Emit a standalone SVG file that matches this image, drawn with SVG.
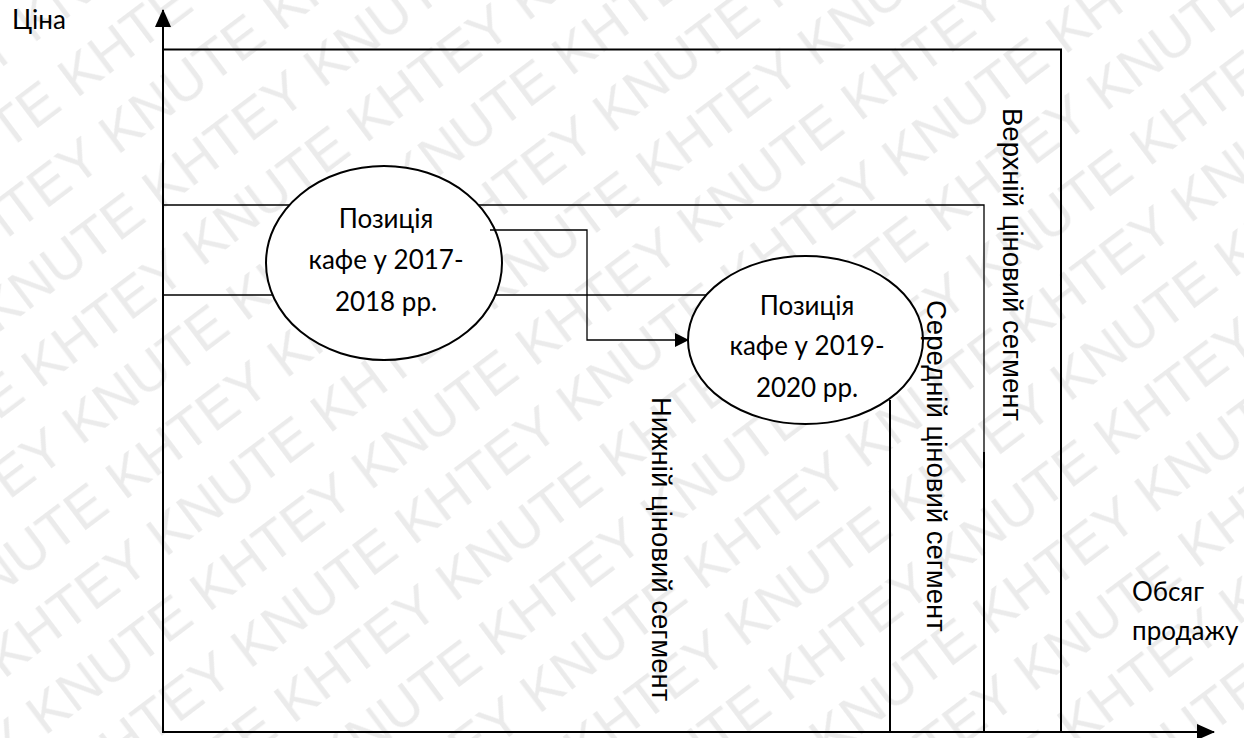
<svg xmlns="http://www.w3.org/2000/svg" width="1244" height="738" viewBox="0 0 1244 738">
<style>
.wm{font-family:"Liberation Sans",Arial,sans-serif;font-size:56px;fill:#ebebeb}
.ln{stroke:#000;stroke-width:2;fill:none}
.thin{stroke:#000;stroke-width:1.3;fill:none}
.ell{stroke:#000;stroke-width:2;fill:#fff}
.lt{font-family:Lato,"Open Sans",sans-serif;font-size:26px;fill:#000}
.vt{font-family:"Liberation Sans",Arial,sans-serif;font-size:27.5px;fill:#000}
</style>
<defs>
<pattern id="wmp" patternUnits="userSpaceOnUse" width="407.6" height="140" patternTransform="rotate(-37)">
<text class="wm" x="0" y="55">KNUTE KHTEY </text>
<text class="wm" x="-203.8" y="125">KNUTE KHTEY </text>
<text class="wm" x="203.8" y="125">KNUTE KHTEY </text>
</pattern>
<marker id="ah" markerWidth="14" markerHeight="14" refX="13" refY="7" orient="auto" markerUnits="userSpaceOnUse">
<path d="M0,0 L14,7 L0,14 Z" fill="#000"/>
</marker>
<marker id="ax" markerWidth="18" markerHeight="18" refX="17" refY="9" orient="auto" markerUnits="userSpaceOnUse">
<path d="M0,1 L18,9 L0,17 Z" fill="#000"/>
</marker>
</defs>
<rect width="1244" height="738" fill="#fff"/>
<rect id="watermark" width="1244" height="738" fill="url(#wmp)"/>
<g id="segments">
<path class="ln" d="M163,49.5 H1061 V732"/>
<path class="thin" d="M163,205 H984 V452"/>
<path class="ln" d="M984,452 V732"/>
<path class="thin" d="M163,295 H708"/>
<path class="ln" d="M890,400 V732"/>
</g>
<g id="axes">
<path class="ln" d="M163,733 V10" marker-end="url(#ax)"/>
<path class="ln" d="M163,732 H1214" marker-end="url(#ax)"/>
</g>
<g id="node-2017">
<ellipse class="ell" cx="384" cy="263" rx="118" ry="97"/>
<text class="lt" text-anchor="middle" x="386" y="228">Позиція</text>
<text class="lt" text-anchor="middle" x="386" y="269">кафе у 2017-</text>
<text class="lt" text-anchor="middle" x="386" y="311">2018 рр.</text>
</g>
<g id="node-2019">
<ellipse class="ell" cx="805.5" cy="340" rx="117.5" ry="84"/>
<text class="lt" text-anchor="middle" x="807" y="315">Позиція</text>
<text class="lt" text-anchor="middle" x="807" y="355">кафе у 2019-</text>
<text class="lt" text-anchor="middle" x="807" y="397">2020 рр.</text>
</g>
<g id="connectors">
<path class="thin" d="M490,230 H587 V340 H688" marker-end="url(#ah)"/>
</g>
<g id="labels">
<text class="lt" x="12" y="29">Ціна</text>
<text class="lt" x="1132" y="601">Обсяг</text>
<text class="lt" x="1132" y="640">продажу</text>
<text class="vt" transform="translate(1003,108) rotate(90)">Верхній ціновий сегмент</text>
<text class="vt" transform="translate(927,300) rotate(90)">Середній ціновий сегмент</text>
<text class="vt" transform="translate(652,397) rotate(90)">Нижній ціновий сегмент</text>
</g>
</svg>
